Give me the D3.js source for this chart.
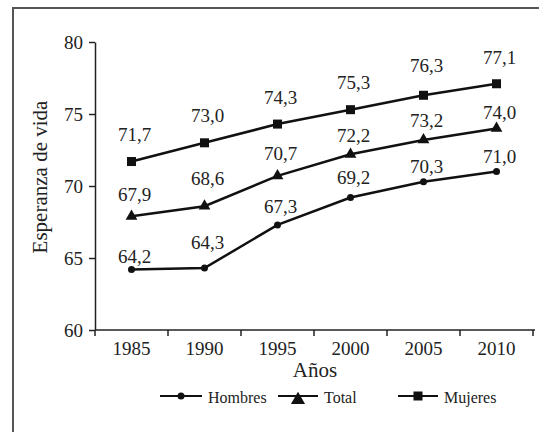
<!DOCTYPE html>
<html>
<head>
<meta charset="utf-8">
<script src="https://cdn.jsdelivr.net/npm/d3@7"></script>
<style>
  body { margin: 0; background: #fff; }
  svg text { font-family: "Liberation Serif", "Times New Roman", Times, serif; }
</style>
</head>
<body>
<div id="chart"></div>
<script>
// Datos: esperanza de vida por sexo
const years = [1985, 1990, 1995, 2000, 2005, 2010];
const hombres = [64.2, 64.3, 67.3, 69.2, 70.3, 71.0];
const total = [67.9, 68.6, 70.7, 72.2, 73.2, 74.0];
const mujeres = [71.7, 73.0, 74.3, 75.3, 76.3, 77.1];
const yTicks = [60, 65, 70, 75, 80];

// separación de las etiquetas sobre cada punto (px)
const dyHombres = [7, 19, 12, 14, 9, 9];
const dyTotal = [15, 21, 16, 12, 13, 9];
const dyMujeres = [21, 21, 20, 21, 23, 20];

const FONT = '"Liberation Serif", "Times New Roman", Times, serif';
const W = 539, H = 432;
const svg = d3.select('#chart').append('svg')
    .attr('width', W).attr('height', H)
    .attr('font-family', FONT);

// Marco
svg.append('rect')
    .attr('x', 13).attr('y', 8)
    .attr('width', 540).attr('height', 440)
    .attr('fill', 'none')
    .attr('stroke', '#555')
    .attr('stroke-width', 2);

const x = d3.scaleBand().domain(years).range([95, 533]).paddingInner(0);
const y = d3.scaleLinear().domain([60, 80]).range([330, 42]);
const cx = d => x(d) + x.bandwidth() / 2;

// Eje Y
const yAxis = svg.append('g')
    .attr('transform', 'translate(95,0)')
    .call(d3.axisLeft(y).tickValues(yTicks).tickSize(6).tickSizeOuter(0).tickPadding(6))
    .attr('font-family', FONT)
    .attr('font-size', 19);
yAxis.select('.domain').attr('stroke', '#222').attr('stroke-width', 1.5);
yAxis.selectAll('.tick line').attr('stroke', '#222').attr('stroke-width', 1.5);
yAxis.selectAll('text').attr('fill', '#222');

// Eje X: ticks en los límites de cada categoría
const xg = svg.append('g');
xg.append('line')
    .attr('x1', 95).attr('x2', 535)
    .attr('y1', 330).attr('y2', 330)
    .attr('stroke', '#222').attr('stroke-width', 1.5);
xg.selectAll('.xtick')
    .data(years.concat(['end']))
    .enter().append('line')
    .attr('x1', d => d === 'end' ? 533 : x(d))
    .attr('x2', d => d === 'end' ? 533 : x(d))
    .attr('y1', 330).attr('y2', 336)
    .attr('stroke', '#222').attr('stroke-width', 1.5);
xg.selectAll('.xlab')
    .data(years)
    .enter().append('text')
    .attr('x', d => cx(d))
    .attr('y', 355)
    .attr('text-anchor', 'middle')
    .attr('font-size', 19)
    .attr('fill', '#222')
    .text(d => d);

// Títulos de ejes
svg.append('text')
    .attr('x', 315).attr('y', 377)
    .attr('text-anchor', 'middle')
    .attr('font-size', 21)
    .attr('fill', '#222')
    .text('Años');

svg.append('text')
    .attr('transform', 'translate(47,177) rotate(-90)')
    .attr('text-anchor', 'middle')
    .attr('font-size', 21)
    .attr('fill', '#222')
    .text('Esperanza de vida');

// Series
const series = [
    { name: 'Hombres', values: hombres, dy: dyHombres, marker: 'circle' },
    { name: 'Total', values: total, dy: dyTotal, marker: 'triangle' },
    { name: 'Mujeres', values: mujeres, dy: dyMujeres, marker: 'square' }
];

function drawMarker(g, type, px, py, size) {
    const k = size || 1;
    if (type === 'circle') {
        g.append('circle').attr('cx', px).attr('cy', py).attr('r', 3.5 * k).attr('fill', '#111');
    } else if (type === 'triangle') {
        g.append('path')
            .attr('d', d3.symbol().type(d3.symbolTriangle).size(60 * k * k)())
            .attr('transform', `translate(${px},${py})`)
            .attr('fill', '#111');
    } else {
        g.append('rect').attr('x', px - 4.5 * k).attr('y', py - 4.5 * k)
            .attr('width', 9 * k).attr('height', 9 * k).attr('fill', '#111');
    }
}

const line = d3.line().x((d, i) => cx(years[i])).y(d => y(d));

series.forEach(s => {
    const g = svg.append('g');
    g.append('path')
        .datum(s.values)
        .attr('d', line)
        .attr('fill', 'none')
        .attr('stroke', '#111')
        .attr('stroke-width', 2.5);
    s.values.forEach((v, i) => {
        drawMarker(g, s.marker, cx(years[i]), y(v));
        g.append('text')
            .attr('x', cx(years[i]) + 3)
            .attr('y', y(v) - s.dy[i])
            .attr('text-anchor', 'middle')
            .attr('font-size', 19)
            .attr('fill', '#222')
            .text(v.toFixed(1).replace('.', ','));
    });
});

// Leyenda
const legendItems = [
    { name: 'Hombres', marker: 'circle', x1: 160, x2: 202 },
    { name: 'Total', marker: 'triangle', x1: 278, x2: 318 },
    { name: 'Mujeres', marker: 'square', x1: 398, x2: 438 }
];
const lg = svg.append('g');
legendItems.forEach(it => {
    lg.append('line')
        .attr('x1', it.x1).attr('x2', it.x2)
        .attr('y1', 396).attr('y2', 396)
        .attr('stroke', '#111').attr('stroke-width', 2);
    const mx = (it.x1 + it.x2) / 2;
    drawMarker(lg, it.marker, mx, it.marker === 'triangle' ? 400 : 396, it.marker === 'triangle' ? 1.2 : 1);
    lg.append('text')
        .attr('x', it.x2 + 6).attr('y', 403)
        .attr('font-size', 16)
        .attr('fill', '#222')
        .text(it.name);
});
</script>
</body>
</html>
